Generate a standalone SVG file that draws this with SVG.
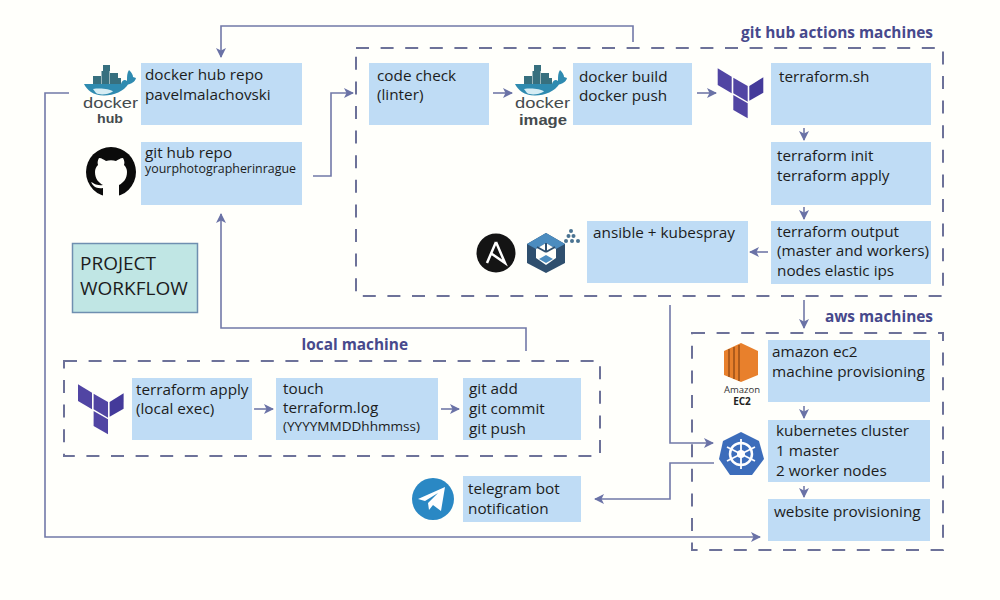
<svg xmlns="http://www.w3.org/2000/svg" width="1000" height="600" viewBox="0 0 1000 600">
<style>
text{font-family:"Open Sans","Noto Sans","Liberation Sans",sans-serif}
.box{fill:#bfdcf5}
.t{font-size:15.300px;fill:#1c1c1c}
.s{font-size:12.500px;fill:#1c1c1c}
.h{font-size:15.400px;font-weight:700;fill:#47498c}
.dash{fill:none;stroke:#6d7299;stroke-width:2;stroke-dasharray:13 11.600}
.c{fill:none;stroke:#7279a8;stroke-width:1.600}
.logo{font-family:"Liberation Sans",sans-serif;fill:#444b4e}
</style>
<defs>
<marker id="a" markerUnits="userSpaceOnUse" markerWidth="12" markerHeight="12" refX="9" refY="5" orient="auto"><path d="M0 0L10 5L0 10L2.500 5Z" fill="#6a72a6"/></marker>
<g id="whale">
<g fill="#37707f"><rect x="93" y="76" width="8" height="8"/><rect x="101.500" y="71" width="8" height="13"/><rect x="103" y="65" width="7" height="6"/><rect x="110" y="73" width="8" height="11"/><rect x="118" y="78" width="3" height="6"/></g>
<path d="M84 84L121 84C122 80 125 79 127 81C127 76 127 73 129 70C132 73 133 75 133 77L136 78C135 82 131 84 128 84.500C124 91 114 95.500 104 95.500C93 95.500 87 90 84 84Z" fill="#2f8bb0"/>
<path d="M93 89C101 88 110 89 113 91.500C108 94.500 100 95.500 96 93Z" fill="#d6edf4"/>
</g>
<g id="tf" fill="#5145a3">
<polygon points="717.700,68.300 731.700,76.700 731.700,93.300 717.700,85"/>
<polygon points="733.300,77.700 747.700,86 747.700,101.700 733.300,93.300"/>
<polygon points="749.300,86 763.300,77.300 763.300,92.700 749.300,100.700" fill="#443a9a"/>
<polygon points="733.300,95 747.700,103.300 747.700,118.300 733.300,110"/>
</g>
</defs>
<rect width="1000" height="600" fill="#fffffb"/>
<g id="groups">
<rect class="dash" x="356" y="48" width="587" height="248"/>
<rect class="dash" x="64" y="361" width="536" height="95"/>
<rect class="dash" x="692" y="333" width="251" height="217"/>
<text class="h" x="933" y="38" text-anchor="end">git hub actions machines</text>
<text class="h" x="933" y="322" text-anchor="end">aws machines</text>
<text class="h" x="408" y="350" text-anchor="end">local machine</text>
</g>
<g id="connectors">
<path class="c" marker-end="url(#a)" d="M633 42V26H221V57"/>
<path class="c" marker-end="url(#a)" d="M313 176H331V93H353"/>
<path class="c" marker-end="url(#a)" d="M69 93H45V537H760"/>
<path class="c" marker-end="url(#a)" d="M526 351V328H221V214"/>
<path class="c" marker-end="url(#a)" d="M493 93H512"/>
<path class="c" marker-end="url(#a)" d="M697 93H716"/>
<path class="c" marker-end="url(#a)" d="M804 128V140"/>
<path class="c" marker-end="url(#a)" d="M804 207V219"/>
<path class="c" marker-end="url(#a)" d="M768 252H750"/>
<path class="c" marker-end="url(#a)" d="M804 300V328"/>
<path class="c" marker-end="url(#a)" d="M670 305V443H713"/>
<path class="c" marker-end="url(#a)" d="M714 463H670V499H595"/>
<path class="c" marker-end="url(#a)" d="M804 406V418"/>
<path class="c" marker-end="url(#a)" d="M804 486V497"/>
<path class="c" marker-end="url(#a)" d="M254 409H273"/>
<path class="c" marker-end="url(#a)" d="M441 409H459"/>
</g>
<g id="dockerhub"><rect class="box" x="141" y="63" width="161" height="62"/>
<use href="#whale"/>
<text class="logo" x="83" y="108" font-size="14" textLength="55" lengthAdjust="spacingAndGlyphs">docker</text>
<text class="logo" x="97" y="123" font-size="12.500" font-weight="700" textLength="26" lengthAdjust="spacingAndGlyphs">hub</text>
<text class="t" x="145" y="80">docker hub repo</text><text class="t" x="145" y="100">pavelmalachovski</text></g>
<g id="github"><rect class="box" x="141" y="142" width="161" height="63"/>
<circle cx="111" cy="172" r="25" fill="#0b0b0b"/>
<path d="M103 197V188C96 189 93 186 91 182C94 183 96 186 103 185C99 183 95 179 95 172C95 169 96 167 98 165C97 162 98 160 99 158C102 158 104 160 106 161C109 160 113 160 116 161C118 160 120 158 123 158C124 160 125 162 124 165C126 167 127 169 127 172C127 179 123 183 119 185V197Z" fill="#fffffb"/>
<text class="t" x="145" y="158">git hub repo</text><text class="s" x="145" y="173" textLength="151" lengthAdjust="spacingAndGlyphs">yourphotographerinrague</text></g>
<g id="workflow"><rect x="72.500" y="243.500" width="125" height="69" fill="#c0e6e4" stroke="#6f8fb0" stroke-width="1.500"/>
<text x="80" y="270" font-size="19" fill="#1c1c1c">PROJECT</text><text x="80" y="295" font-size="19" fill="#1c1c1c">WORKFLOW</text></g>
<g id="codecheck"><rect class="box" x="369" y="63" width="120" height="62"/>
<text class="t" x="377" y="81">code check</text><text class="t" x="377" y="100">(linter)</text></g>
<g id="dockerimage"><use href="#whale" x="431"/>
<text class="logo" x="515" y="108" font-size="14" textLength="55" lengthAdjust="spacingAndGlyphs">docker</text>
<text class="logo" x="519" y="125" font-size="14" font-weight="700" textLength="48" lengthAdjust="spacingAndGlyphs">image</text></g>
<g id="dockerbuild"><rect class="box" x="573" y="63" width="119" height="62"/>
<text class="t" x="579" y="82">docker build</text><text class="t" x="579" y="101">docker push</text></g>
<g id="terraformsh"><use href="#tf"/><rect class="box" x="771" y="63" width="160" height="62"/>
<text class="t" x="779" y="82">terraform.sh</text></g>
<g id="terraforminit"><rect class="box" x="771" y="142" width="160" height="63"/>
<text class="t" x="777" y="161">terraform init</text><text class="t" x="777" y="181">terraform apply</text></g>
<g id="terraformoutput"><rect class="box" x="771" y="221" width="160" height="63"/>
<text class="t" x="777" y="237">terraform output</text><text class="t" x="777" y="256">(master and workers)</text><text class="t" x="777" y="276">nodes elastic ips</text></g>
<g id="ansible"><rect class="box" x="587" y="221" width="161" height="62"/>
<circle cx="496" cy="253" r="19.500" fill="#141414"/>
<path d="M496 242L505 263L492 254M496 242L487 263" fill="none" stroke="#fff" stroke-width="2.500"/>
<polygon points="546,233 565,244 565,263 546,273 527,263 527,244" fill="#2f4f6e"/>
<polygon points="546,233 565,244 556,249 546,243 536,249 527,244" fill="#4b8cbf"/>
<polygon points="546,243 556,249 556,258 546,265 536,258 536,249" fill="#fffffb"/>
<path d="M546 252V243M546 252L537 247M546 252L555 247" stroke="#2f4f6e" stroke-width="2" fill="none"/>
<polygon points="546,255 553,259 546,263 539,259" fill="#4b8cbf"/>
<g fill="#4a7391"><circle cx="571" cy="231" r="2"/><circle cx="568.500" cy="236" r="2"/><circle cx="573.500" cy="236" r="2"/><circle cx="566" cy="241" r="2"/><circle cx="572" cy="241" r="2"/><circle cx="578" cy="241" r="2"/></g>
<text class="t" x="593" y="238">ansible + kubespray</text></g>
<g id="terraformapply"><use href="#tf" x="-639.700" y="316"/><rect class="box" x="132" y="378" width="120" height="62"/>
<text class="t" x="136" y="395">terraform apply</text><text class="t" x="136" y="414">(local exec)</text></g>
<g id="touch"><rect class="box" x="276" y="378" width="162" height="62"/>
<text class="t" x="283" y="394">touch</text><text class="t" x="283" y="413">terraform.log</text><text class="s" x="283" y="431" textLength="137" lengthAdjust="spacingAndGlyphs">(YYYYMMDDhhmmss)</text></g>
<g id="gitadd"><rect class="box" x="463" y="378" width="118" height="62"/>
<text class="t" x="469" y="394">git add</text><text class="t" x="469" y="414">git commit</text><text class="t" x="469" y="434">git push</text></g>
<g id="telegram"><rect class="box" x="463" y="476" width="118" height="46"/>
<circle cx="433" cy="499" r="21" fill="#2a88c4"/>
<path d="M418 499L445 487L441 511L433 505L429 510L428 503L438 493L425 501Z" fill="#fff"/>
<text class="t" x="468" y="494">telegram bot</text><text class="t" x="468" y="514">notification</text></g>
<g id="ec2"><rect class="box" x="768" y="340" width="162" height="62"/>
<polygon points="741,343 758,351 758,375 741,382 724,375 724,351" fill="#e8802c"/>
<path d="M729 349V377M734 347V379M739 345V381" stroke="#9a4f17" stroke-width="1.500"/>
<text x="742" y="393" text-anchor="middle" font-size="9.500" fill="#333" font-family="Liberation Sans,sans-serif">Amazon</text>
<text x="742" y="405" text-anchor="middle" font-size="10" font-weight="700" fill="#222" font-family="Liberation Sans,sans-serif">EC2</text>
<text class="t" x="772" y="357">amazon ec2</text><text class="t" x="772" y="377">machine provisioning</text></g>
<g id="kubernetes"><rect class="box" x="768" y="420" width="162" height="62"/>
<polygon points="741,432 759,441 764,459 752,475 730,475 719,459 723,441" fill="#3c6dbb"/>
<circle cx="741" cy="454" r="11" fill="none" stroke="#fff" stroke-width="2.500"/>
<path d="M741 439V469M727 447L755 461M755 447L727 461" stroke="#fff" stroke-width="1.800"/>
<circle cx="741" cy="454" r="4" fill="#fff"/>
<text class="t" x="776" y="436">kubernetes cluster</text><text class="t" x="776" y="456">1 master</text><text class="t" x="776" y="476">2 worker nodes</text></g>
<g id="website"><rect class="box" x="768" y="499" width="162" height="42"/>
<text class="t" x="774" y="517">website provisioning</text></g>
</svg>
